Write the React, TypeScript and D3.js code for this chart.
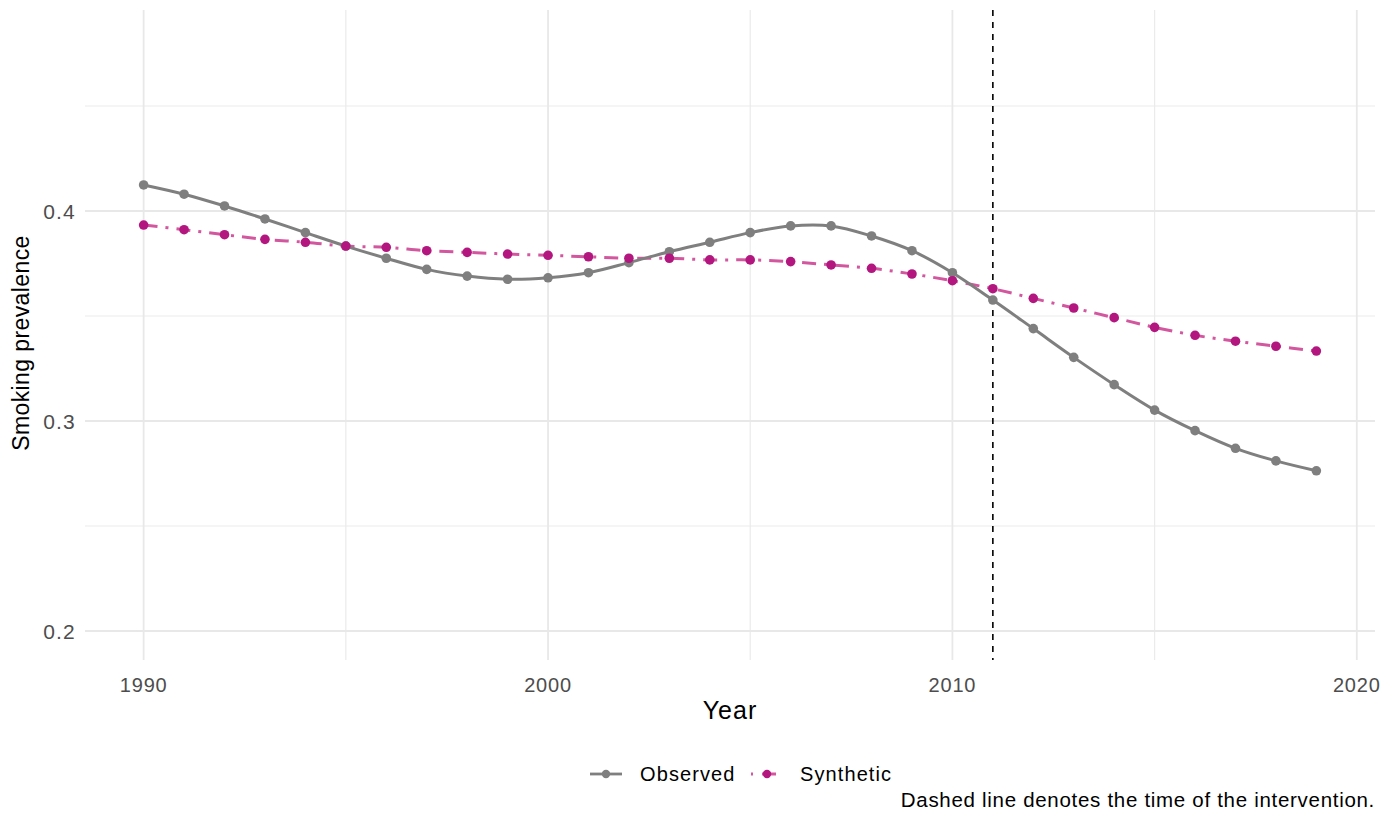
import { useEffect, useRef } from "react";
import { select, scaleLinear, line, curveCatmullRom } from "d3";

// years 1990-2019
const years = [
  1990, 1991, 1992, 1993, 1994, 1995, 1996, 1997, 1998, 1999, 2000, 2001, 2002,
  2003, 2004, 2005, 2006, 2007, 2008, 2009, 2010, 2011, 2012, 2013, 2014, 2015,
  2016, 2017, 2018, 2019,
];
const observed = [
  0.4124, 0.408, 0.4024, 0.3962, 0.3897, 0.3833, 0.3775, 0.3722, 0.369,
  0.3675, 0.3682, 0.3706, 0.3754, 0.3806, 0.3851, 0.3897, 0.3929, 0.3929,
  0.3881, 0.3811, 0.3706, 0.3576, 0.344, 0.3303, 0.3173, 0.3052, 0.2954,
  0.287, 0.281, 0.2763,
];
const synthetic = [
  0.3933, 0.3911, 0.3887, 0.3865, 0.3851, 0.3833, 0.3827, 0.3811, 0.3803,
  0.3795, 0.3789, 0.3782, 0.3775, 0.3775, 0.3767, 0.3767, 0.3759, 0.3743,
  0.3727, 0.37, 0.3668, 0.363, 0.3584, 0.3538, 0.3492, 0.3446, 0.3408, 0.338,
  0.3356, 0.3333,
];
const xTicks = [1990, 2000, 2010, 2020];
const xMinor = [1995, 2005, 2015];
const yTicks = [0.2, 0.3, 0.4];
const yMinor = [0.25, 0.35, 0.45];
const interventionYear = 2011;

const W = 1381;
const H = 834;
const FONT = "'Liberation Sans', Arial, sans-serif";
const GRAY = "#7f7f7f";
const PINK_PT = "#b3177f";
const PINK_LINE = "#d3579f";

const drawChart = (el: SVGSVGElement) => {
  const svg = select(el);
  svg.selectAll("*").remove();

  const left = 85,
    right = 1375,
    top = 10,
    bottom = 660;

  const x = scaleLinear([1988.55, 2020.45], [left, right]);
  const y = scaleLinear([0.1862, 0.4957], [bottom, top]);

  // 网格
  const grid = svg.append("g");
  grid
    .selectAll("line.ymin")
    .data(yMinor)
    .enter()
    .append("line")
    .attr("x1", left)
    .attr("x2", right)
    .attr("y1", (d) => y(d))
    .attr("y2", (d) => y(d))
    .attr("stroke", "#ebebeb")
    .attr("stroke-width", 1.2);
  grid
    .selectAll("line.xmin")
    .data(xMinor)
    .enter()
    .append("line")
    .attr("y1", top)
    .attr("y2", bottom)
    .attr("x1", (d) => x(d))
    .attr("x2", (d) => x(d))
    .attr("stroke", "#ebebeb")
    .attr("stroke-width", 1.2);
  grid
    .selectAll("line.ymaj")
    .data(yTicks)
    .enter()
    .append("line")
    .attr("x1", left)
    .attr("x2", right)
    .attr("y1", (d) => y(d))
    .attr("y2", (d) => y(d))
    .attr("stroke", "#e8e8e8")
    .attr("stroke-width", 1.8);
  grid
    .selectAll("line.xmaj")
    .data(xTicks)
    .enter()
    .append("line")
    .attr("y1", top)
    .attr("y2", bottom)
    .attr("x1", (d) => x(d))
    .attr("x2", (d) => x(d))
    .attr("stroke", "#e8e8e8")
    .attr("stroke-width", 1.8);

  // 刻度标签
  svg
    .append("g")
    .selectAll("text")
    .data(xTicks)
    .enter()
    .append("text")
    .attr("x", (d) => x(d))
    .attr("y", bottom + 32)
    .attr("text-anchor", "middle")
    .attr("font-family", FONT)
    .attr("font-size", 20)
    .attr("letter-spacing", 0.8)
    .attr("fill", "#4d4d4d")
    .text((d) => d);
  svg
    .append("g")
    .selectAll("text")
    .data(yTicks)
    .enter()
    .append("text")
    .attr("x", left - 9)
    .attr("y", (d) => y(d))
    .attr("dy", "0.36em")
    .attr("text-anchor", "end")
    .attr("font-family", FONT)
    .attr("font-size", 21)
    .attr("letter-spacing", 1.2)
    .attr("fill", "#4d4d4d")
    .text((d) => d.toFixed(1));

  // 轴标题
  svg
    .append("text")
    .attr("x", (left + right) / 2)
    .attr("y", 719)
    .attr("text-anchor", "middle")
    .attr("font-family", FONT)
    .attr("font-size", 25)
    .attr("letter-spacing", 1)
    .attr("fill", "#000")
    .text("Year");
  svg
    .append("text")
    .attr("transform", `translate(29,${(top + bottom) / 2 + 8}) rotate(-90)`)
    .attr("text-anchor", "middle")
    .attr("font-family", FONT)
    .attr("font-size", 23)
    .attr("letter-spacing", 0.4)
    .attr("fill", "#000")
    .text("Smoking prevalence");

  // 干预时间虚线
  svg
    .append("line")
    .attr("x1", x(interventionYear))
    .attr("x2", x(interventionYear))
    .attr("y1", top)
    .attr("y2", bottom)
    .attr("stroke", "#000")
    .attr("stroke-width", 1.6)
    .attr("stroke-dasharray", "6,6");

  const lineGen = line<number>()
    .x((d, i) => x(years[i]))
    .y((d) => y(d))
    .curve(curveCatmullRom);

  svg
    .append("path")
    .attr("d", lineGen(synthetic) as string)
    .attr("fill", "none")
    .attr("stroke", PINK_LINE)
    .attr("stroke-width", 3)
    .attr("stroke-dasharray", "14,8,3,8");
  svg
    .append("path")
    .attr("d", lineGen(observed) as string)
    .attr("fill", "none")
    .attr("stroke", GRAY)
    .attr("stroke-width", 3);

  svg
    .append("g")
    .selectAll("circle")
    .data(observed)
    .enter()
    .append("circle")
    .attr("cx", (d, i) => x(years[i]))
    .attr("cy", (d) => y(d))
    .attr("r", 4.8)
    .attr("fill", GRAY);
  svg
    .append("g")
    .selectAll("circle")
    .data(synthetic)
    .enter()
    .append("circle")
    .attr("cx", (d, i) => x(years[i]))
    .attr("cy", (d) => y(d))
    .attr("r", 4.8)
    .attr("fill", PINK_PT);

  // 图例
  const lg = svg.append("g").attr("transform", "translate(0,774)");
  lg.append("line")
    .attr("x1", 590)
    .attr("x2", 622)
    .attr("stroke", GRAY)
    .attr("stroke-width", 2.8);
  lg.append("circle").attr("cx", 606).attr("r", 4.2).attr("fill", GRAY);
  lg.append("text")
    .attr("x", 640)
    .attr("dy", "0.36em")
    .attr("font-family", FONT)
    .attr("font-size", 20)
    .attr("letter-spacing", 1.1)
    .attr("fill", "#000")
    .text("Observed");
  lg.append("line")
    .attr("x1", 751)
    .attr("x2", 753)
    .attr("stroke", PINK_LINE)
    .attr("stroke-width", 3);
  lg.append("line")
    .attr("x1", 762)
    .attr("x2", 776)
    .attr("stroke", PINK_LINE)
    .attr("stroke-width", 3);
  lg.append("circle").attr("cx", 767).attr("r", 4.2).attr("fill", PINK_PT);
  lg.append("text")
    .attr("x", 800)
    .attr("dy", "0.36em")
    .attr("font-family", FONT)
    .attr("font-size", 20)
    .attr("letter-spacing", 1.1)
    .attr("fill", "#000")
    .text("Synthetic");

  // 注释
  svg
    .append("text")
    .attr("x", right)
    .attr("y", 807)
    .attr("text-anchor", "end")
    .attr("font-family", FONT)
    .attr("font-size", 20.5)
    .attr("letter-spacing", 0.7)
    .attr("fill", "#000")
    .text("Dashed line denotes the time of the intervention.");
};

const App = () => {
  const ref = useRef<SVGSVGElement>(null);
  useEffect(() => {
    if (ref.current) drawChart(ref.current);
  }, []);
  return (
    <svg
      ref={ref}
      width={W}
      height={H}
      style={{ position: "absolute", left: 0, top: 0, background: "#fff" }}
    />
  );
};

export default App;
